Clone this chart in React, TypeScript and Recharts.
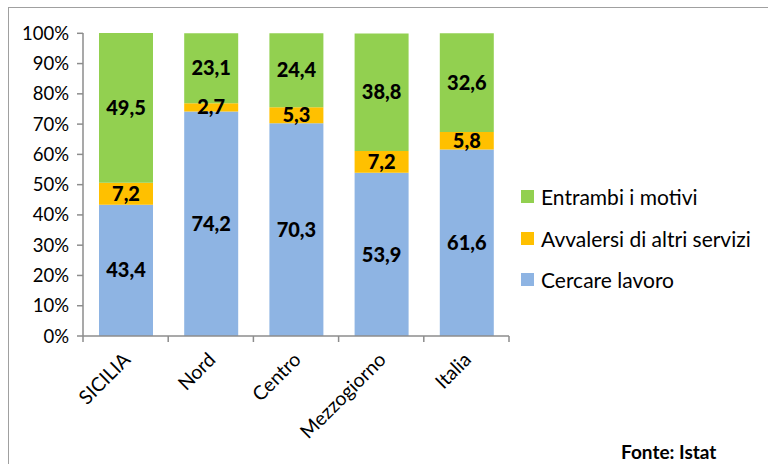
import React from "react";
import { BarChart, Bar, XAxis, YAxis, LabelList } from "recharts";

const areas = ["SICILIA", "Nord", "Centro", "Mezzogiorno", "Italia"];
const cercareLavoro = [43.4, 74.2, 70.3, 53.9, 61.6];
const altriServizi = [7.2, 2.7, 5.3, 7.2, 5.8];
const entrambi = [49.5, 23.1, 24.4, 38.8, 32.6];
const yTicks = [0, 10, 20, 30, 40, 50, 60, 70, 80, 90, 100];

const series = [
  { key: "lavoro", name: "Cercare lavoro", color: "#8EB4E3" },
  { key: "servizi", name: "Avvalersi di altri servizi", color: "#FFC000" },
  { key: "entrambi", name: "Entrambi i motivi", color: "#92D050" },
];

const data = areas.map((area, i) => ({
  area,
  lavoro: cercareLavoro[i],
  servizi: altriServizi[i],
  entrambi: entrambi[i],
}));

const FONT = "Lato, 'Open Sans', sans-serif";
const fmt = (v: number) => v.toFixed(1).replace(".", ",");

function AreaTick(props: any) {
  const { x, y, payload } = props;
  const tx = x + 6;
  const ty = y + 17;
  return (
    <text
      x={tx}
      y={ty}
      transform={`rotate(-45, ${tx}, ${ty})`}
      textAnchor="end"
      fontSize={19.5}
      fontFamily={FONT}
      fill="#000"
    >
      {payload.value}
    </text>
  );
}

export default function App() {
  return (
    <div
      style={{
        position: "absolute",
        left: 0,
        top: 0,
        width: 768,
        height: 464,
        overflow: "hidden",
        background: "#fff",
        fontFamily: FONT,
      }}
    >
      <div
        style={{
          position: "absolute",
          left: 8,
          top: 7,
          width: 800,
          height: 500,
          border: "1.5px solid #a0a0a0",
        }}
      />
      <BarChart
        width={768}
        height={464}
        data={data}
        margin={{ top: 33, right: 259, bottom: 0, left: 0 }}
        barSize={54}
        style={{ position: "absolute", left: 0, top: 0 }}
      >
        <YAxis
          domain={[0, 100]}
          ticks={yTicks}
          width={83}
          tickFormatter={(v) => `${v}%`}
          tick={{ fontSize: 18.5, fill: "#000", fontFamily: FONT }}
          axisLine={{ stroke: "#8c8c8c", strokeWidth: 1.5 }}
          tickLine={{ stroke: "#8c8c8c", strokeWidth: 1.5 }}
          tickSize={6}
          tickMargin={8}
          interval={0}
        />
        <XAxis
          dataKey="area"
          height={128}
          interval={0}
          tick={<AreaTick />}
          axisLine={{ stroke: "#8c8c8c", strokeWidth: 1.5 }}
          tickLine={false}
        />
        {series.map((s) => (
          <Bar
            key={s.key}
            dataKey={s.key}
            name={s.name}
            stackId="a"
            fill={s.color}
            isAnimationActive={false}
          >
            <LabelList
              dataKey={s.key}
              position="center"
              formatter={(v: any) => fmt(Number(v))}
              style={{ fontSize: 20, fontWeight: 900, fill: "#000", fontFamily: FONT }}
            />
          </Bar>
        ))}
      </BarChart>
      {/* x-axis category boundary ticks */}
      <svg
        width={768}
        height={464}
        style={{ position: "absolute", left: 0, top: 0, pointerEvents: "none" }}
      >
        {[0, 1, 2, 3, 4, 5].map((i) => {
          const x = 83 + (i * (509 - 83)) / 5;
          return (
            <line key={i} x1={x} x2={x} y1={336} y2={342} stroke="#8c8c8c" strokeWidth={1.5} />
          );
        })}
      </svg>
      <div style={{ position: "absolute", left: 521, top: 176 }}>
        {[...series].reverse().map((s) => (
          <div
            key={s.key}
            style={{ display: "flex", alignItems: "center", height: 41.5, fontSize: 21, color: "#000" }}
          >
            <span
              style={{ display: "inline-block", width: 13, height: 13, background: s.color, marginRight: 7 }}
            />
            {s.name}
          </div>
        ))}
      </div>
      <div
        style={{
          position: "absolute",
          left: 621,
          top: 440,
          fontSize: 19,
          fontWeight: 700,
          color: "#000",
        }}
      >
        Fonte: Istat
      </div>
    </div>
  );
}
